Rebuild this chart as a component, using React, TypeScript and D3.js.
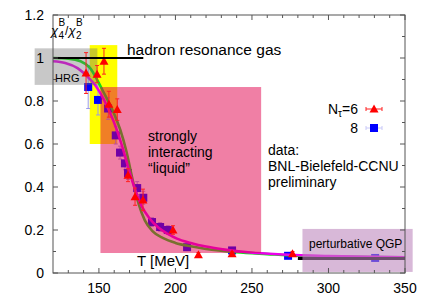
import React from "react";
import * as d3 from "d3";

// Nt=6 (red triangles)
const n6T = [141.6, 148.8, 153.3, 156.5, 162, 169, 173.6, 178.8, 198.4, 215, 237, 276.5];
const n6V = [0.93, 0.925, 0.985, 0.785, 0.76, 0.455, 0.355, 0.34, 0.2, 0.085, 0.09, 0.09];
const n6E = [0.095, 0.04, 0.06, 0.06, 0.05, 0.03, 0.04, 0.05, 0.02, 0.01, 0.01, 0.01];

// Nt=8 (blue squares)
const n8T = [143, 149.4, 156, 161, 163.8, 167, 169, 175, 179, 184.7, 190, 195, 207.6, 237, 273.6, 330.5];
const n8V = [0.865, 0.805, 0.765, 0.64, 0.56, 0.51, 0.465, 0.395, 0.35, 0.237, 0.214, 0.2, 0.12, 0.105, 0.08, 0.07];
const n8E = [0.1, 0.07, 0.05, 0.04, 0.03, 0.03, 0.03, 0.03, 0.03, 0.02, 0.02, 0.02, 0.01, 0.01, 0.01, 0.01];

// curves
const greenT = [120, 130, 138, 144, 148, 152, 156, 160, 164, 168, 172, 176, 180, 185, 192, 200, 210, 220, 240, 260, 280, 300, 330, 350];
const greenV = [1.0, 0.997, 0.985, 0.955, 0.91, 0.855, 0.8, 0.74, 0.665, 0.565, 0.435, 0.32, 0.245, 0.195, 0.162, 0.14, 0.124, 0.112, 0.097, 0.088, 0.08, 0.077, 0.074, 0.073];
const magT = [120, 128, 136, 143, 148, 153, 157, 162, 166, 170, 174, 178, 183, 189, 195, 201, 210, 220, 231, 249, 270, 300, 330, 350];
const magV = [0.985, 0.977, 0.953, 0.91, 0.87, 0.81, 0.75, 0.66, 0.57, 0.47, 0.38, 0.31, 0.255, 0.21, 0.182, 0.16, 0.14, 0.123, 0.11, 0.095, 0.086, 0.079, 0.075, 0.073];

const xTicks = [150, 200, 250, 300, 350];
const xMinor = [130, 140, 160, 170, 180, 190, 210, 220, 230, 240, 260, 270, 280, 290, 310, 320, 330, 340];
const yTicks = [0, 0.2, 0.4, 0.6, 0.8, 1, 1.2];
const yMinor = [0.1, 0.3, 0.5, 0.7, 0.9, 1.1];

const FONT = "'Liberation Sans', Arial, Helvetica, sans-serif";

export default function App() {
  const x = d3.scaleLinear().domain([120, 350]).range([53, 405]);
  const y = d3.scaleLinear().domain([0, 1.2]).range([273, 15]);
  const L = x(120), R = x(350), T = y(1.2), B = y(0);

  const line = d3.line<[number, number]>().x(d => x(d[0])).y(d => y(d[1])).curve(d3.curveMonotoneX);
  const greenPath = line(greenT.map((t, i) => [t, greenV[i]]) as [number, number][]) || "";
  const magPath = line(magT.map((t, i) => [t, magV[i]]) as [number, number][]) || "";

  const rectFrom = (t0: number, t1: number, v0: number, v1: number) => ({
    x: x(t0), y: y(v1), width: x(t1) - x(t0), height: y(v0) - y(v1),
  });
  const gray = rectFrom(108, 149, 0.875, 1.045);
  const yellow = rectFrom(144, 162, 0.6, 1.06);
  const pink = rectFrom(151, 256, 0.093, 0.865);
  const qgp = rectFrom(283, 355, 0.005, 0.205);

  const tri = (cx: number, cy: number) => `M${cx - 4.5},${cy + 3.5}L${cx + 4.5},${cy + 3.5}L${cx},${cy - 4.5}Z`;

  return (
    <svg width={432} height={303} style={{ position: "absolute", left: 0, top: 0 }} fontFamily={FONT}>
      <rect width={432} height={303} fill="#fff" />
      {/* background region below data */}
      <rect {...yellow} fill="#ffff00" />

      {/* Nt=8 squares */}
      {n8T.map((t, i) => (
        <g key={"s" + i}>
          <line x1={x(t)} x2={x(t)} y1={y(n8V[i] - n8E[i])} y2={y(n8V[i] + n8E[i])} stroke="#9a9ae8" strokeWidth={1} />
          <line x1={x(t) - 2} x2={x(t) + 2} y1={y(n8V[i] - n8E[i])} y2={y(n8V[i] - n8E[i])} stroke="#9a9ae8" strokeWidth={1} />
          <line x1={x(t) - 2} x2={x(t) + 2} y1={y(n8V[i] + n8E[i])} y2={y(n8V[i] + n8E[i])} stroke="#9a9ae8" strokeWidth={1} />
          <rect x={x(t) - 4} y={y(n8V[i]) - 4} width={8} height={8} fill="#0000ff" />
        </g>
      ))}

      {/* curves */}
      <path d={greenPath} fill="none" stroke="#10e010" strokeWidth={2.6} />
      <path d={magPath} fill="none" stroke="rgb(235,0,235)" strokeWidth={2.6} />
      {/* SB limit */}
      <line x1={x(280)} x2={x(350)} y1={y(0.0675)} y2={y(0.0675)} stroke="#000" strokeWidth={3} />

      {/* translucent overlays */}
      <rect {...gray} fill="rgb(110,110,110)" fillOpacity={0.38} />
      <rect {...pink} fill="rgb(225,0,75)" fillOpacity={0.5} />
      <rect {...qgp} fill="rgb(188,133,188)" fillOpacity={0.58} />

      {/* Nt=6 triangles */}
      {n6T.map((t, i) => (
        <g key={"t" + i}>
          <line x1={x(t)} x2={x(t)} y1={y(n6V[i] - n6E[i])} y2={y(n6V[i] + n6E[i])} stroke="#ff2020" strokeWidth={1} />
          <line x1={x(t) - 2} x2={x(t) + 2} y1={y(n6V[i] - n6E[i])} y2={y(n6V[i] - n6E[i])} stroke="#ff2020" strokeWidth={1} />
          <line x1={x(t) - 2} x2={x(t) + 2} y1={y(n6V[i] + n6E[i])} y2={y(n6V[i] + n6E[i])} stroke="#ff2020" strokeWidth={1} />
          <path d={tri(x(t), y(n6V[i]))} fill="#ff0000" />
        </g>
      ))}

      {/* hadron resonance gas line */}
      <line x1={L} x2={x(179)} y1={y(1)} y2={y(1)} stroke="#000" strokeWidth={2} />

      {/* frame */}
      <rect x={L} y={T} width={R - L} height={B - T} fill="none" stroke="#555" strokeWidth={1} />
      {xTicks.map(t => (
        <g key={"xt" + t}>
          <line x1={x(t)} x2={x(t)} y1={B} y2={B - 5} stroke="#555" />
          <line x1={x(t)} x2={x(t)} y1={T} y2={T + 5} stroke="#555" />
          <text x={x(t)} y={293} fontSize={14} textAnchor="middle" fill="#000">{t}</text>
        </g>
      ))}
      {xMinor.map(t => (
        <g key={"xm" + t}>
          <line x1={x(t)} x2={x(t)} y1={B} y2={B - 3} stroke="#555" />
          <line x1={x(t)} x2={x(t)} y1={T} y2={T + 3} stroke="#555" />
        </g>
      ))}
      {yTicks.map(v => (
        <g key={"yt" + v}>
          <line x1={L} x2={L + 5} y1={y(v)} y2={y(v)} stroke="#555" />
          <line x1={R} x2={R - 5} y1={y(v)} y2={y(v)} stroke="#555" />
          <text x={44} y={y(v) + 5} fontSize={14} textAnchor="end" fill="#000">{String(v)}</text>
        </g>
      ))}
      {yMinor.map(v => (
        <g key={"ym" + v}>
          <line x1={L} x2={L + 3} y1={y(v)} y2={y(v)} stroke="#555" />
          <line x1={R} x2={R - 3} y1={y(v)} y2={y(v)} stroke="#555" />
        </g>
      ))}

      {/* y label chi4/chi2 */}
      <g fill="#000">
        <text x={51} y={35} fontSize={13} fontStyle="italic">χ</text>
        <text x={58.5} y={39} fontSize={10}>4</text>
        <text x={58.5} y={26} fontSize={10}>B</text>
        <text x={65} y={35} fontSize={12}>/</text>
        <text x={68.5} y={35} fontSize={13} fontStyle="italic">χ</text>
        <text x={76} y={39} fontSize={10}>2</text>
        <text x={76} y={26} fontSize={10}>B</text>
      </g>

      {/* annotations */}
      <text x={127} y={55} fontSize={15.5} fill="#000">hadron resonance gas</text>
      <text x={55} y={82} fontSize={11} fill="#000">HRG</text>
      <text x={148} y={141} fontSize={14} fill="#000">strongly</text>
      <text x={148} y={157} fontSize={14} fill="#000">interacting</text>
      <text x={148} y={173} fontSize={14} fill="#000">“liquid”</text>
      <text x={268} y={155} fontSize={14} fill="#000">data:</text>
      <text x={268} y={171} fontSize={14} fill="#000">BNL-Bielefeld-CCNU</text>
      <text x={268} y={187} fontSize={14} fill="#000">preliminary</text>
      <text x={309} y={248} fontSize={12} fill="#000">perturbative QGP</text>
      <text x={137} y={266} fontSize={15} fill="#000">T [MeV]</text>

      {/* legend */}
      <text x={358} y={114} fontSize={14} textAnchor="end" fill="#000">N<tspan dy={3} fontSize={10}>τ</tspan><tspan dy={-3} fontSize={14}>=6</tspan></text>
      <line x1={366} x2={382} y1={109} y2={109} stroke="#ff2020" />
      <line x1={366} x2={366} y1={107} y2={111} stroke="#ff2020" />
      <line x1={382} x2={382} y1={107} y2={111} stroke="#ff2020" />
      <path d={tri(374, 109)} fill="#ff0000" />
      <text x={358} y={133} fontSize={14} textAnchor="end" fill="#000">8</text>
      <line x1={366} x2={382} y1={128} y2={128} stroke="#c8c8f8" />
      <line x1={366} x2={366} y1={126} y2={130} stroke="#c8c8f8" />
      <line x1={382} x2={382} y1={126} y2={130} stroke="#c8c8f8" />
      <rect x={370} y={124} width={8} height={8} fill="#0000ff" />
    </svg>
  );
}
